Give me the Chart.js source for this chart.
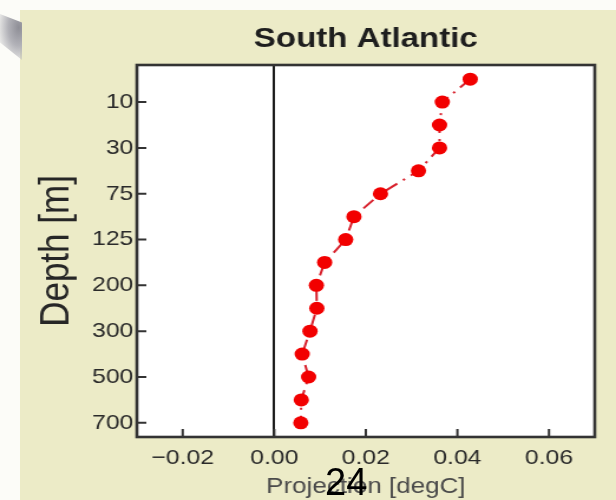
<!DOCTYPE html>
<html>
<head>
<meta charset="utf-8">
<script src="https://cdn.jsdelivr.net/npm/chart.js@4.4.1/dist/chart.umd.min.js"></script>
<style>
html,body{margin:0;padding:0;width:616px;height:500px;overflow:hidden;background:#fcfcf8;}
#panel{position:absolute;left:20px;top:10px;width:596px;height:490px;background:#ecebc7;}
#curl{position:absolute;left:0;top:10px;width:22px;height:50px;
  background:radial-gradient(ellipse at 85% 35%, #8e8e96 0%, #b2b2b8 40%, rgba(250,250,248,0) 90%);
  clip-path:polygon(0 8%,100% 25%,100% 100%,0 65%);}
#wrap{position:absolute;left:0;top:0;width:522px;height:500px;transform:scaleX(1.18008);transform-origin:0 0;filter:blur(0.4px);}
#pg{position:absolute;left:325px;top:463px;font:38px "Liberation Sans",Arial,sans-serif;line-height:38px;color:#000;}
</style>
</head>
<body>
<div id="panel"></div>
<div id="curl"></div>
<div id="wrap"><canvas id="c" width="522" height="500"></canvas></div>
<div id="pg">24</div>
<script>
// ---- data ----
const depths = [5,10,20,30,50,75,100,125,150,200,250,300,400,500,600,700];
const projection = [0.0428,0.0367,0.0361,0.0361,0.0315,0.0232,0.0174,0.0156,0.0110,0.0092,0.0093,0.0078,0.0061,0.0075,0.0059,0.0058];
const depthTickLabels = [10,30,75,125,200,300,500,700];
const xTickValues = [-0.02,0,0.02,0.04,0.06];
const chartTitle = 'South Atlantic';
const xTitle = 'Projection [degC]';
const yTitle = 'Depth [m]';

const FONT = '"Liberation Sans", Arial, Helvetica, sans-serif';

const framePlugin = {
  id: 'frame',
  beforeDraw(chart) {
    const {ctx, chartArea: a} = chart;
    ctx.save();
    ctx.fillStyle = '#ffffff';
    ctx.fillRect(a.left, a.top, a.right - a.left, a.bottom - a.top);
    ctx.restore();
  },
  beforeDatasetsDraw(chart) {
    const {ctx, chartArea: a, scales} = chart;
    ctx.save();
    ctx.strokeStyle = '#333333';
    ctx.lineWidth = 2;
    ctx.beginPath();
    scales.x.ticks.forEach(t => {
      const px = scales.x.getPixelForValue(t.value);
      ctx.moveTo(px, a.bottom);
      ctx.lineTo(px, a.bottom - 8);
    });
    scales.y.ticks.forEach(t => {
      const py = scales.y.getPixelForValue(t.value);
      ctx.moveTo(a.left, py);
      ctx.lineTo(a.left + 8, py);
    });
    ctx.stroke();
    ctx.lineWidth = 2.6;
    ctx.strokeRect(a.left, a.top, a.right - a.left, a.bottom - a.top);
    ctx.restore();
  }
};

new Chart(document.getElementById('c'), {
  type: 'scatter',
  data: {
    datasets: [{
      data: projection.map((v, i) => ({x: v, y: i})),
      showLine: true,
      borderColor: '#d8202c',
      borderWidth: 2,
      borderDash: [12, 6, 2, 6],
      pointBackgroundColor: '#f20000',
      pointBorderColor: '#f20000',
      pointBorderWidth: 0,
      pointRadius: 6.5,
      pointHoverRadius: 6.5
    }]
  },
  options: {
    responsive: false,
    animation: false,
    events: [],
    layout: {padding: {left: 0, right: 18, top: 0, bottom: 0}},
    plugins: {
      legend: {display: false},
      tooltip: {enabled: false},
      title: {
        display: true,
        text: chartTitle,
        fullSize: false,
        color: '#1e1e1e',
        font: {family: FONT, size: 28, weight: 'bold'},
        padding: {top: 22, bottom: 9.4}
      }
    },
    scales: {
      x: {
        type: 'linear',
        min: -0.03,
        max: 0.07,
        afterBuildTicks: s => { s.ticks = xTickValues.map(v => ({value: v})); },
        afterFit: s => { s.height = 63; },
        border: {display: false},
        grid: {
          drawTicks: false,
          lineWidth: 2,
          color: c => (c.tick && c.tick.value === 0) ? '#1a1a1a' : 'rgba(0,0,0,0)'
        },
        ticks: {
          padding: 9,
          color: '#2a2a2a',
          font: {family: FONT, size: 21},
          callback: v => (v < 0 ? '\u2212' + Math.abs(v).toFixed(2) : v.toFixed(2))
        },
        title: {
          display: true,
          text: xTitle,
          color: '#4a4a4a',
          font: {family: FONT, size: 22},
          padding: {top: 0, bottom: 0}
        }
      },
      y: {
        type: 'linear',
        reverse: true,
        min: -0.62,
        max: 15.62,
        afterBuildTicks: s => { s.ticks = depthTickLabels.map(d => ({value: depths.indexOf(d)})); },
        afterFit: s => { s.width = 116; },
        border: {display: false},
        grid: {display: false, drawTicks: false},
        ticks: {
          padding: 3,
          color: '#2a2a2a',
          font: {family: FONT, size: 21},
          callback: v => String(depths[v])
        },
        title: {
          display: true,
          text: yTitle,
          color: '#262626',
          font: {family: FONT, size: 35},
          padding: {top: 27, bottom: 0}
        }
      }
    }
  },
  plugins: [framePlugin]
});
</script>
</body>
</html>
